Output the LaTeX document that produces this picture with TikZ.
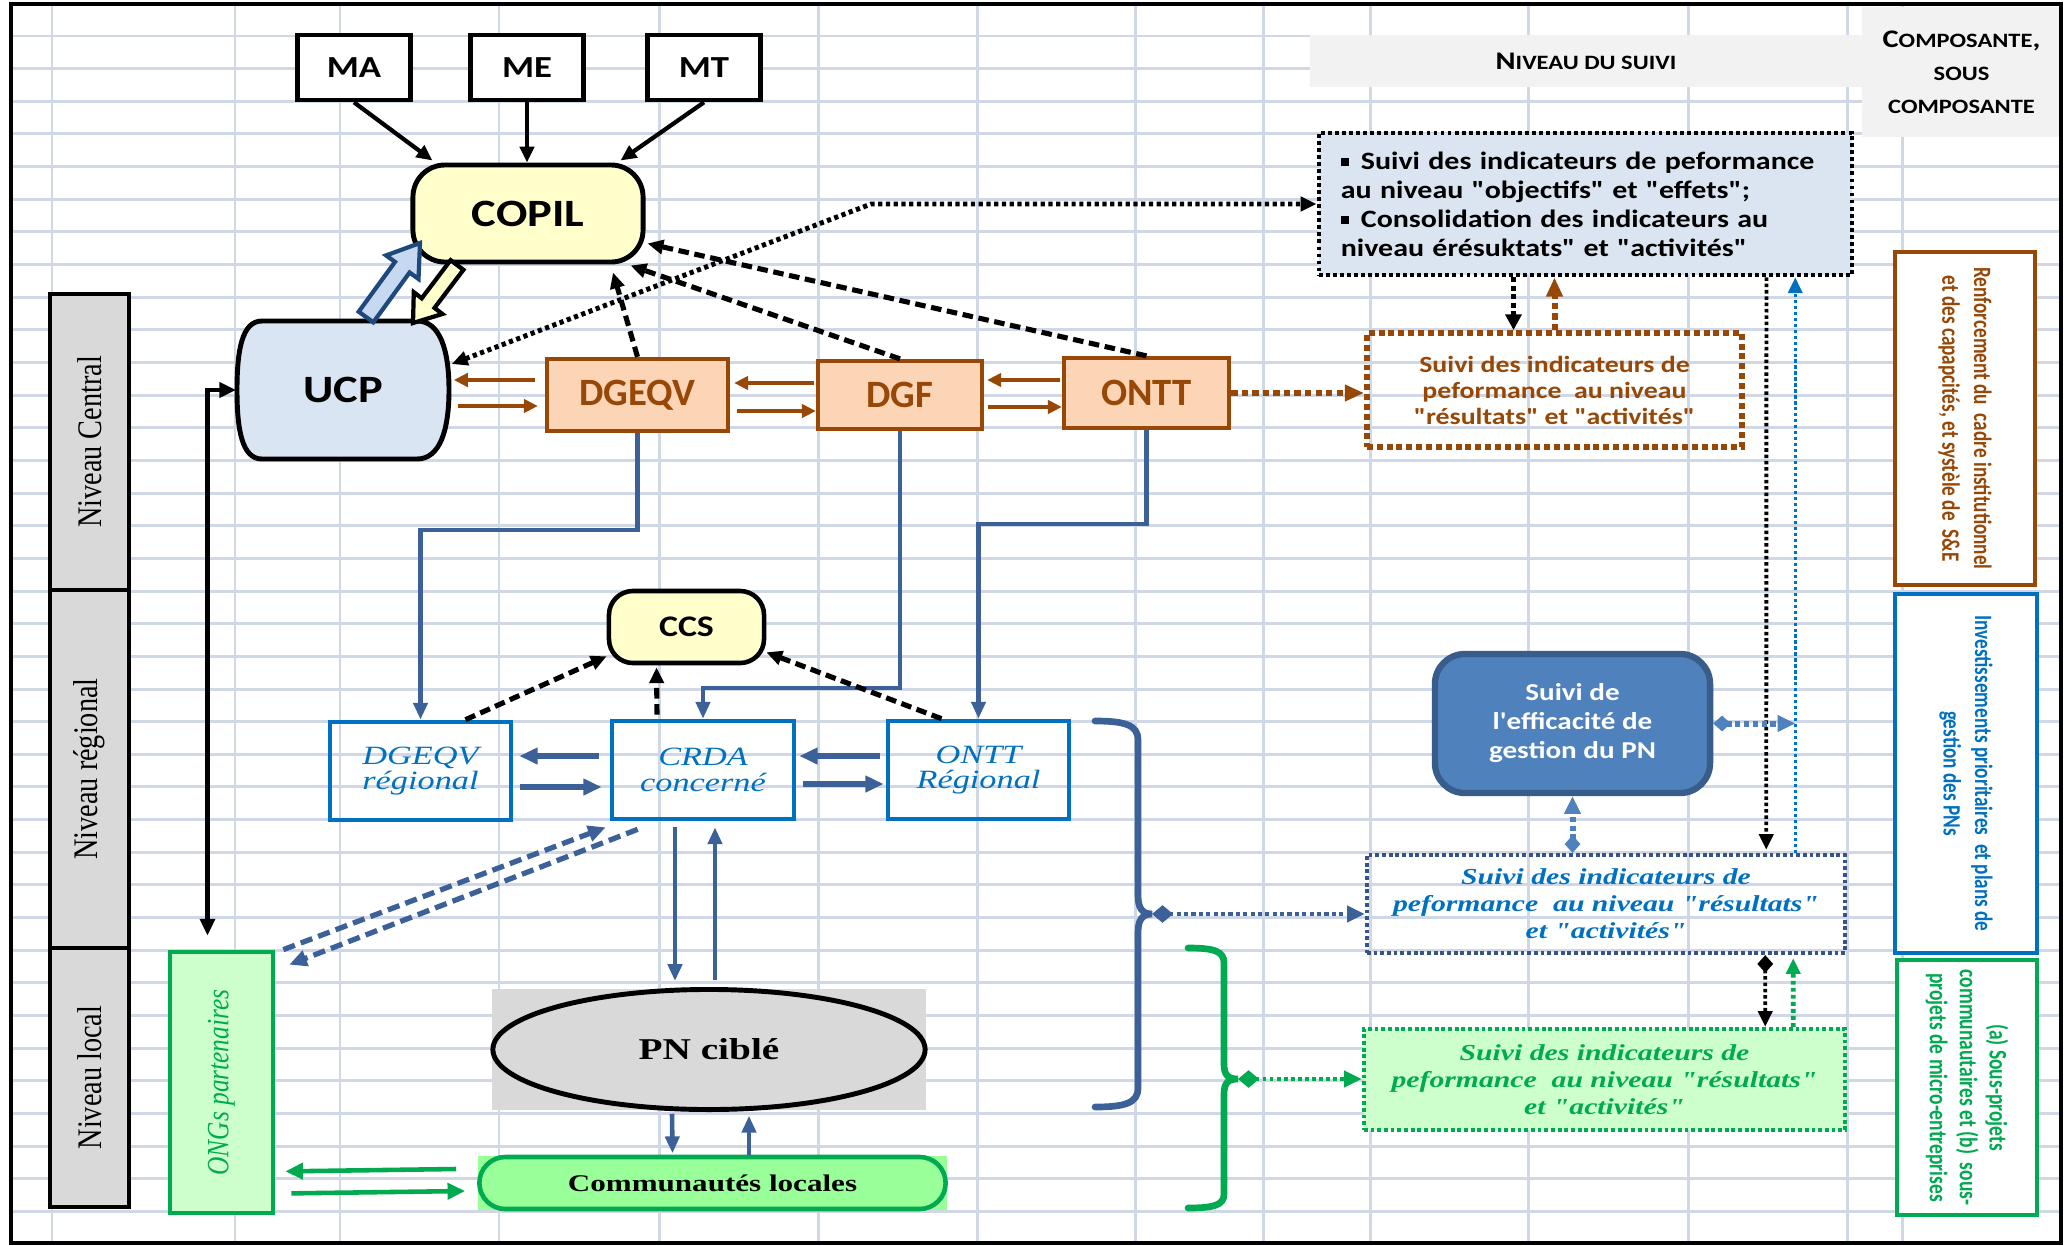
\documentclass[tikz,border=0pt]{standalone}
\usepackage{fontspec}
\usepackage{graphicx}
\setmainfont{Carlito}
\newfontfamily\calW{Carlito}[FakeStretch=1.2]
\newfontfamily\calN{Carlito}
\newfontfamily\calR{Carlito}[FakeStretch=0.77]
\newfontfamily\serW{Liberation Serif}[FakeStretch=1.3]
\newfontfamily\serR{Liberation Serif}[FakeStretch=0.82]
\usetikzlibrary{arrows.meta,calc,shapes.geometric,shapes.misc}
\newcommand\fsz[2]{\fontsize{#1}{#2}\selectfont}
\newcommand\smc[1]{{\fontsize{5.8}{7}\selectfont #1}}
\definecolor{gridc}{RGB}{208,216,230}
\definecolor{brownc}{RGB}{151,71,6}
\definecolor{peach}{RGB}{251,213,181}
\definecolor{lyellow}{RGB}{255,255,204}
\definecolor{ucpblue}{RGB}{218,229,243}
\definecolor{bigblue}{RGB}{219,229,241}
\definecolor{navyl}{RGB}{60,96,152}
\definecolor{regblue}{RGB}{0,112,192}
\definecolor{effblue}{RGB}{79,129,189}
\definecolor{effborder}{RGB}{56,93,138}
\definecolor{sbdark}{RGB}{56,84,135}
\definecolor{gcol}{RGB}{0,170,80}
\definecolor{lgreen}{RGB}{204,255,204}
\definecolor{cgreen}{RGB}{153,255,153}
\definecolor{hdr}{RGB}{242,242,242}
\definecolor{barg}{RGB}{217,217,217}
\definecolor{darkblue}{RGB}{31,73,125}
\definecolor{lblue2}{RGB}{198,217,241}
\tikzset{
  gridline/.style={draw=gridc, line width=0.85pt},
  topbox/.style={draw, line width=1.3pt, fill=white, minimum width=1.13cm, minimum height=0.65cm, inner sep=0pt, font={\calW\bfseries\fsz{8.7}{10}}},
  obox/.style={draw=brownc, fill=peach, line width=1.2pt, text=brownc, inner sep=0pt, font={\calN\bfseries\fsz{11}{13}}},
  rbox/.style={draw=regblue, line width=1.3pt, inner sep=0pt, minimum width=1.81cm, minimum height=0.98cm, text=regblue, align=center, font={\serW\itshape\fsz{7.5}{7.2}}},
  lvl/.style={draw, line width=1.3pt, fill=barg, rotate=90, minimum height=0.79cm, inner sep=0pt, font={\serR\fsz{9.8}{11}}},
  side/.style={fill=white, line width=1.3pt, rotate=-90, inner sep=0pt, align=center, font={\calR\bfseries\fsz{7.1}{9}}},
  blk/.style={line width=1.2pt, -{Triangle[length=4.5pt,width=4pt]}},
  bdash/.style={line width=1.45pt, dash pattern=on 3pt off 1.6pt, -{Triangle[length=4.5pt,width=4pt]}},
  oarr/.style={color=brownc, line width=1.2pt, -{Triangle[length=4pt,width=3.8pt]}},
  odot/.style={color=brownc, line width=1.7pt, dash pattern=on 1.8pt off 1.2pt, -{Triangle[length=5.5pt,width=4.5pt]}},
  bdot/.style={line width=1.4pt, dash pattern=on 1.2pt off 1pt},
  bdotv/.style={line width=1.6pt, dash pattern=on 1.4pt off 1pt, -{Triangle[length=4.5pt,width=4.5pt]}},
  bdotl/.style={line width=1.1pt, dash pattern=on 1pt off 0.8pt, -{Triangle[length=4.5pt,width=4pt]}},
  bluev/.style={color=regblue, line width=1pt, dash pattern=on 0.9pt off 0.8pt, -{Triangle[length=4.5pt,width=4pt]}},
  effdot/.style={color=effblue, line width=1.7pt, dash pattern=on 1.5pt off 1pt, {Diamond[length=5pt,width=4.5pt]}-{Triangle[length=5pt,width=4.5pt]}},
  navdot/.style={color=navyl, line width=1.4pt, dash pattern=on 1.2pt off 0.9pt, {Diamond[length=6pt,width=5pt]}-{Triangle[length=5pt,width=4.5pt]}},
  greendot/.style={color=gcol, line width=1.3pt, dash pattern=on 1.1pt off 0.9pt},
  bline/.style={color=navyl, line width=1.3pt, -{Triangle[length=4.8pt,width=4pt]}},
  barr/.style={color=navyl, line width=1.7pt, -{Triangle[length=5.2pt,width=4.5pt]}},
  bldash/.style={color=navyl, line width=1.5pt, dash pattern=on 3.5pt off 1.8pt, -{Triangle[length=5pt,width=4.5pt]}},
  garr/.style={color=gcol, line width=1.3pt, -{Triangle[length=5pt,width=4.5pt]}},
  bracestyle/.style={line width=1.9pt, line cap=round}
}
\begin{document}
\begin{tikzpicture}[x=0.01cm,y=-0.01cm]
\useasboundingbox (0,0) rectangle (2072,1245);
% grid
\foreach \gx in {52,235,340,499,659,818,977,1135,1263,1370,1528,1688,1847,1902}
  \draw[gridline] (\gx,4) -- (\gx,1243);
\foreach \k in {0,...,36}
  \draw[gridline] (11,{36+32.65*\k}) -- (2061,{36+32.65*\k});
% header
\node[fill=hdr, minimum width=5.52cm, minimum height=0.52cm, inner sep=0pt, font={\calW\bfseries\fsz{7.2}{9}}] (HDR) at (1586,61) {N\smc{IVEAU DU SUIVI}};
\node[fill=hdr, minimum width=1.99cm, minimum height=1.30cm, inner sep=0pt, align=center, font={\calW\bfseries\fsz{7.2}{9.4}}] (COMP) at (1961.5,72) {C\smc{OMPOSANTE},\\\smc{SOUS}\\\smc{COMPOSANTE}};
% levels
\node[lvl, minimum width=2.96cm] (L1) at (89.5,442) {Niveau Central};
\node[lvl, minimum width=3.58cm] (L2) at (89.5,769) {Niveau régional};
\node[lvl, minimum width=2.59cm] (L3) at (89.5,1077.5) {Niveau local};
% top boxes
\node[topbox] (MA) at (354,67.5) {MA};
\node[topbox] (ME) at (527,67.5) {ME};
\node[topbox] (MT) at (704,67.5) {MT};
% COPIL
\node[draw, line width=1.4pt, fill=lyellow, rounded corners=0.32cm, minimum width=2.30cm, minimum height=0.97cm, inner sep=0pt, font={\calW\bfseries\fsz{11}{13}}] (COPIL) at (528,213.5) {COPIL};
% UCP
\draw[line width=1.4pt, fill=ucpblue] (262,321) -- (417,321) .. controls (440,321) and (449,350) .. (449,390) .. controls (449,430) and (440,459) .. (417,459) -- (262,459) .. controls (242,459) and (237,430) .. (237,390) .. controls (237,350) and (242,321) .. (262,321) -- cycle;
\node[minimum width=2.12cm, minimum height=1.38cm, inner sep=0pt, font={\calW\bfseries\fsz{11}{13}}] (UCP) at (343,390) {UCP};
% orange boxes
\node[obox, minimum width=1.81cm, minimum height=0.72cm] (DGEQV) at (637.5,395) {DGEQV};
\node[obox, minimum width=1.64cm, minimum height=0.68cm] (DGF) at (900,395) {DGF};
\node[obox, minimum width=1.65cm, minimum height=0.70cm] (ONTT) at (1146.5,393) {ONTT};
% big box
\node[draw, fill=bigblue, line width=1.3pt, dash pattern=on 1.1pt off 0.9pt, minimum width=5.33cm, minimum height=1.42cm, text width=4.89cm, inner xsep=0.22cm, inner ysep=0pt, align=left, font={\calW\bfseries\fsz{7.1}{8.25}}] (BIG) at (1585.5,204) {\rule[0.25ex]{2.2pt}{2.2pt}\hspace{3.5pt}Suivi des indicateurs de peformance\\au niveau "objectifs" et "effets";\\\rule[0.25ex]{2.2pt}{2.2pt}\hspace{3.5pt}Consolidation des indicateurs au\\niveau érésuktats" et "activités"};
% orange dotted box
\node[draw=brownc, line width=1.6pt, dash pattern=on 1.7pt off 1.1pt, minimum width=3.75cm, minimum height=1.14cm, inner sep=0pt, align=center, text=brownc, font={\calW\bfseries\fsz{6.6}{7.4}}] (OSUIVI) at (1554.5,390) {Suivi des indicateurs de\\peformance\ \ au niveau\\"résultats" et "activités"};
% efficiency box
\node[draw=effborder, line width=1.8pt, fill=effblue, rounded corners=0.3cm, minimum width=2.75cm, minimum height=1.39cm, inner sep=0pt, align=center, text=white, font={\calW\bfseries\fsz{6.9}{8.25}}] (EFF) at (1572.5,723.5) {Suivi de\\l'efficacité de\\gestion du PN};
% blue suivi box
\node[draw=sbdark, line width=1.2pt, dash pattern=on 1.1pt off 0.8pt, minimum width=4.78cm, minimum height=0.98cm, inner sep=0pt, align=center, text=regblue, font={\serW\bfseries\itshape\fsz{6.5}{7.7}}] (SUIVB) at (1606,904) {Suivi des indicateurs de\\peformance\ \ au niveau "résultats"\\et "activités"};
% green suivi box
\node[draw=gcol, fill=lgreen, line width=1.2pt, dash pattern=on 1.1pt off 0.8pt, minimum width=4.81cm, minimum height=1.01cm, inner sep=0pt, align=center, text=gcol, font={\serW\bfseries\itshape\fsz{6.5}{7.7}}] (GSUIV) at (1604.5,1079.5) {Suivi des indicateurs de\\peformance\ \ au niveau "résultats"\\et "activités"};
% right boxes
\node[side, draw=brownc, text=brownc, minimum width=3.33cm, minimum height=1.40cm] (R1) at (1965,418.5) {Renforcement du\ \ cadre institutionnel\\et des capapcités, et systèle de\ \ S\&E};
\node[side, draw=regblue, text=regblue, minimum width=3.59cm, minimum height=1.42cm] (R2) at (1966,773.5) {Investissements prioritaires\ \ et plans de\\gestion des PNs};
\node[side, draw=gcol, text=gcol, minimum width=2.55cm, minimum height=1.40cm, font={\calR\bfseries\fsz{7.2}{8.5}}] (R3) at (1967,1087.5) {(a) Sous-projets\\communautaires et (b)\ \ sous-\\projets de micro-entreprises};
% CCS
\node[draw, line width=1.3pt, fill=lyellow, rounded corners=0.24cm, minimum width=1.55cm, minimum height=0.72cm, inner sep=0pt, font={\calW\bfseries\fsz{8.5}{10}}] (CCS) at (686.5,627) {CCS};
% regional boxes
\node[rbox] (RDG) at (420.5,771) {DGEQV\\régional};
\node[rbox, minimum width=1.82cm] (CRDA) at (703,770) {CRDA\\concerné};
\node[rbox] (RONTT) at (978.5,770) {ONTT\\Régional};
% PN
\node[fill=barg, minimum width=4.34cm, minimum height=1.21cm, inner sep=0pt] (PNbg) at (709,1049.5) {};
\node[ellipse, draw, line width=1.4pt, fill=barg, minimum width=4.32cm, minimum height=1.20cm, inner sep=0pt, font={\serW\bfseries\fsz{8.6}{10}}] (PN) at (PNbg) {PN ciblé};
% communities
\node[fill=cgreen, minimum width=4.69cm, minimum height=0.54cm, inner sep=0pt] (COMbg) at (712.5,1183) {};
\node[rounded rectangle, draw=gcol, line width=1.3pt, fill=cgreen, minimum width=4.66cm, minimum height=0.52cm, inner sep=0pt, font={\serW\bfseries\fsz{6.8}{8}}] (COM) at (COMbg) {Communautés locales};
% ONG
\node[draw=gcol, line width=1.3pt, fill=lgreen, minimum width=1.03cm, minimum height=2.61cm, inner sep=0pt, text=gcol, font={\serR\itshape\fsz{8.8}{10}}] (ONG) at (221.5,1082.5) {\rotatebox{90}{ONGs partenaires}};

% ---- connectors ----
\draw[blk] (MA.south) -- ($(COPIL.north west)+(22,-2)$);
\draw[blk] (ME.south) -- (ME.south |- COPIL.north);
\draw[blk] (MT.south) -- ($(COPIL.north east)+(-25,-2)$);
% thick arrows UCP <-> COPIL
\draw[draw=darkblue, fill=lblue2, line width=1.2pt] (358.7,311.7) -- (395.0,261.9) -- (386.1,255.4) -- (420,243) -- (418.5,279.0) -- (409.6,272.5) -- (373.3,322.3) -- cycle;
\draw[fill=lyellow, line width=1.2pt] (450.6,260.2) -- (421.7,298.3) -- (413.8,292.2) -- (413,323) -- (442.4,314.0) -- (434.5,307.9) -- (463.4,269.8) -- cycle;
% dotted UCP <-> big box
\coordinate (dk) at (871,204);
\draw[bdot, {Triangle[length=4.5pt,width=4pt]}-{Triangle[length=4.5pt,width=4pt]}] ($(UCP.east)+(2,-26)$) -- (dk) -- (BIG.west);
% dashed to COPIL
\draw[bdash] (DGEQV.north) -- ($(COPIL.south)+(85,8)$);
\draw[bdash] (DGF.north) -- ($(COPIL.south east)+(-15,1)$);
\draw[bdash] (ONTT.north) -- ($(COPIL.east)+(2,30)$);
% orange arrows
\draw[oarr] ($(DGEQV.west)+(-10,-15)$) -- ($(UCP.east)+(4,-10)$);
\draw[oarr] ($(UCP.east)+(8,16)$) -- ($(DGEQV.west)+(-7,11)$);
\draw[oarr] ($(DGF.west)+(-2,-12)$) -- ($(DGEQV.east)+(4,-12)$);
\draw[oarr] ($(DGEQV.east)+(7,16)$) -- ($(DGF.west)+(0,16)$);
\draw[oarr] ($(ONTT.west)+(-2,-13)$) -- ($(DGF.east)+(3,-15)$);
\draw[oarr] ($(DGF.east)+(4,12)$) -- ($(ONTT.west)+(0,14)$);
\draw[odot] (ONTT.east) -- (ONTT.east -| OSUIVI.west);
% big box <-> orange box
\draw[bdotv] ($(BIG.south)+(-72,0)$) -- ($(OSUIVI.north)+(-41,0)$);
\draw[odot] (OSUIVI.north) -- (OSUIVI.north |- BIG.south);
% long verticals
\draw[bdotl] ($(BIG.south east)+(-88,0)$) -- ($(SUIVB.north east)+(-81,-3)$);
\coordinate (bv) at ($(SUIVB.north east)+(-52,0)$);
\draw[bluev] (bv) -- (bv |- BIG.south);
\draw[effdot] (EFF.east) -- (EFF.east -| bv);
\draw[effdot] (SUIVB.north -| EFF.south) -- (EFF.south);
% braces
\draw[bracestyle, color=navyl] (1095,721) .. controls (1125,721) and (1138,725) .. (1138,740) -- (1138,895) .. controls (1138,908) and (1142,914) .. (1152,914) .. controls (1142,914) and (1138,920) .. (1138,933) -- (1138,1088) .. controls (1138,1103) and (1125,1107) .. (1095,1107);
\coordinate (bB) at (1152,914);
\draw[navdot] (bB) -- (bB -| SUIVB.west);
\draw[bracestyle, color=gcol] (1188,948) .. controls (1214,948) and (1224,951) .. (1224,963) -- (1224,1064) .. controls (1224,1075) and (1228,1079) .. (1238,1079) .. controls (1228,1079) and (1224,1083) .. (1224,1094) -- (1224,1194) .. controls (1224,1205) and (1214,1208) .. (1188,1208);
\coordinate (bG) at (1238,1079);
\draw[greendot, {Diamond[length=6pt,width=5pt]}-{Triangle[length=5pt,width=4.5pt]}] (bG) -- (bG -| GSUIV.west);
% SUIVB <-> GSUIV
\draw[bdotl, {Diamond[length=5pt,width=4.5pt]}-{Triangle[length=4.5pt,width=4pt]}] ($(SUIVB.south east)+(-82,0)$) -- ($(GSUIV.north east)+(-82,0)$);
\draw[greendot, -{Triangle[length=4.5pt,width=4pt]}] ($(GSUIV.north east)+(-54,0)$) -- ($(SUIVB.south east)+(-54,3)$);
% blue lines down to regional
\draw[bline] (DGEQV.south) -- ++(0,97) -| (RDG.north);
\draw[bline] (DGF.south) -- ++(0,257) -| (CRDA.north);
\draw[bline] (ONTT.south) -- ++(0,94) -| (RONTT.north);
% regional arrows
\draw[barr] ($(CRDA.west)+(-11,-14)$) -- ($(RDG.east)+(6,-15)$);
\draw[barr] ($(RDG.east)+(7,16)$) -- ($(CRDA.west)+(-8,17)$);
\draw[barr] ($(RONTT.west)+(-6,-14)$) -- ($(CRDA.east)+(3,-14)$);
\draw[barr] ($(CRDA.east)+(7,14)$) -- ($(RONTT.west)+(-2,14)$);
% dashed to CCS
\draw[bdash] ($(RDG.north)+(45,0)$) -- ($(CCS.south west)+(0,-9)$);
\draw[bdash] ($(CRDA.north)+(-46,-4)$) -- ($(CCS.south)+(-30,2)$);
\draw[bdash] ($(RONTT.north)+(-37,0)$) -- ($(CCS.south east)+(0,-13)$);
% CRDA <-> ONG dashed
\draw[bldash] ($(ONG.north east)+(8,0)$) -- ($(CRDA.south west)+(-4,6)$);
\draw[bldash] ($(CRDA.south west)+(28,8)$) -- ($(ONG.north east)+(14,15)$);
% CRDA <-> PN
\draw[bline] ($(CRDA.south)+(-28,6)$) -- ($(PN.north)+(-34,-6)$);
\draw[bline] ($(PN.north)+(6,-7)$) -- ($(CRDA.south)+(12,6)$);
% PN <-> communities
\draw[bline] ($(PNbg.south)+(-37,3)$) -- ($(COMbg.north)+(-40,-2)$);
\draw[bline] ($(COMbg.north)+(36.5,0)$) -- ($(PNbg.south)+(40,5)$);
% ONG <-> communities
\draw[garr] ($(COMbg.west)+(-21,-14)$) -- ($(ONG.south east)+(10,-44)$);
\draw[garr] ($(ONG.south east)+(16,-22)$) -- ($(COMbg.west)+(-12,8)$);
% UCP <-> ONG
\draw[line width=1.2pt, {Triangle[length=4.8pt,width=4.2pt]}-{Triangle[length=4.8pt,width=4.2pt]}] (UCP.west) -| ($(ONG.north)+(-14,-14)$);
% frame
\draw[line width=1.3pt] (11,4) rectangle (2061,1243);
\end{tikzpicture}
\end{document}
